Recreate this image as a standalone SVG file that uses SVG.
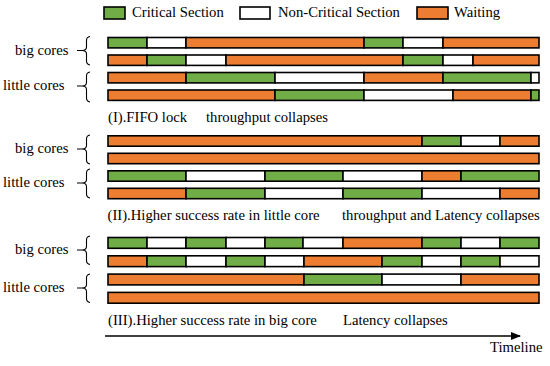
<svg xmlns="http://www.w3.org/2000/svg" width="550" height="366" viewBox="0 0 550 366" font-family="'Liberation Serif', 'Times New Roman', serif">
<defs>
<style>
text{font-family:'Liberation Serif','Times New Roman',serif;font-size:14.7px;fill:#000}
.g{fill:#70AD47;stroke:#000;stroke-width:1.6}
.o{fill:#ED7D31;stroke:#000;stroke-width:1.6}
.w{fill:#fff;stroke:#000;stroke-width:1.6}
.br{fill:none;stroke:#000;stroke-width:1.1}
.ax{stroke:#000;stroke-width:1.5;fill:none}
</style>
<marker id="ah" markerWidth="10" markerHeight="8" refX="9" refY="4" orient="auto" markerUnits="userSpaceOnUse">
<path d="M0,0 L10,4 L0,8 z" fill="#000"/>
</marker>
</defs>
<rect width="550" height="366" fill="#fff"/>

<g id="legend">
<rect class="g" x="104" y="7" width="21" height="12"/>
<text x="132" y="17">Critical Section</text>
<rect class="w" x="240" y="7" width="30" height="12"/>
<text x="278" y="17">Non-Critical Section</text>
<rect class="o" x="417" y="7" width="31" height="12"/>
<text x="454" y="17">Waiting</text>
</g>

<g id="labels">
<text x="15" y="54.5">big cores</text>
<text x="3" y="90">little cores</text>
<text x="15" y="153">big cores</text>
<text x="3" y="187">little cores</text>
<text x="15" y="254">big cores</text>
<text x="3" y="291.5">little cores</text>
</g>

<g id="braces">
<path class="br" d="M77,50.5 H82 M90,36.5 Q86.5,37 86.5,40.5 V47 Q86.5,50.5 82,50.5 Q86.5,50.5 86.5,54 V61 Q86.5,64.5 90,65"/>
<path class="br" d="M77,86 H82 M90,72 Q86.5,72.5 86.5,76 V82.5 Q86.5,86 82,86 Q86.5,86 86.5,89.5 V98 Q86.5,101.5 90,102"/>
<path class="br" d="M77,149 H82 M90,135 Q86.5,135.5 86.5,139 V145.5 Q86.5,149 82,149 Q86.5,149 86.5,152.5 V160 Q86.5,163.5 90,164"/>
<path class="br" d="M77,183 H82 M90,169 Q86.5,169.5 86.5,173 V179.5 Q86.5,183 82,183 Q86.5,183 86.5,186.5 V194 Q86.5,197.5 90,198"/>
<path class="br" d="M77,250 H82 M90,236 Q86.5,236.5 86.5,240 V246.5 Q86.5,250 82,250 Q86.5,250 86.5,253.5 V260.5 Q86.5,264 90,264.5"/>
<path class="br" d="M77,288 H82 M90,274 Q86.5,274.5 86.5,278 V284.5 Q86.5,288 82,288 Q86.5,288 86.5,291.5 V298.5 Q86.5,302 90,302.5"/>
</g>

<g id="s1-big-1">
<rect class="g" x="108" y="37.5" width="39" height="10.4"/>
<rect class="w" x="147" y="37.5" width="39" height="10.4"/>
<rect class="o" x="186" y="37.5" width="178" height="10.4"/>
<rect class="g" x="364" y="37.5" width="39" height="10.4"/>
<rect class="w" x="403" y="37.5" width="40" height="10.4"/>
<rect class="o" x="443" y="37.5" width="96" height="10.4"/>
</g>
<g id="s1-big-2">
<rect class="o" x="108" y="55" width="39" height="10.4"/>
<rect class="g" x="147" y="55" width="39" height="10.4"/>
<rect class="w" x="186" y="55" width="40" height="10.4"/>
<rect class="o" x="226" y="55" width="177" height="10.4"/>
<rect class="g" x="403" y="55" width="40" height="10.4"/>
<rect class="w" x="443" y="55" width="30" height="10.4"/>
<rect class="o" x="473" y="55" width="66" height="10.4"/>
</g>
<g id="s1-little-1">
<rect class="o" x="108" y="72.5" width="78" height="10.4"/>
<rect class="g" x="186" y="72.5" width="89" height="10.4"/>
<rect class="w" x="275" y="72.5" width="89" height="10.4"/>
<rect class="o" x="364" y="72.5" width="79" height="10.4"/>
<rect class="g" x="443" y="72.5" width="88" height="10.4"/>
<rect class="w" x="531" y="72.5" width="8" height="10.4"/>
</g>
<g id="s1-little-2">
<rect class="o" x="108" y="90" width="167" height="10.4"/>
<rect class="g" x="275" y="90" width="89" height="10.4"/>
<rect class="w" x="364" y="90" width="89" height="10.4"/>
<rect class="o" x="453" y="90" width="78" height="10.4"/>
<rect class="g" x="531" y="90" width="8" height="10.4"/>
</g>
<text id="cap1" x="108" y="121.5">(I).FIFO lock<tspan x="206">throughput collapses</tspan></text>

<g id="s2-big-1">
<rect class="o" x="108" y="135.8" width="314" height="10.4"/>
<rect class="g" x="422" y="135.8" width="39" height="10.4"/>
<rect class="w" x="461" y="135.8" width="39" height="10.4"/>
<rect class="o" x="500" y="135.8" width="39" height="10.4"/>
</g>
<g id="s2-big-2">
<rect class="o" x="108" y="153.3" width="431" height="10.4"/>
</g>
<g id="s2-little-1">
<rect class="g" x="108" y="170.8" width="78" height="10.4"/>
<rect class="w" x="186" y="170.8" width="79" height="10.4"/>
<rect class="g" x="265" y="170.8" width="78" height="10.4"/>
<rect class="w" x="343" y="170.8" width="79" height="10.4"/>
<rect class="o" x="422" y="170.8" width="39" height="10.4"/>
<rect class="g" x="461" y="170.8" width="78" height="10.4"/>
</g>
<g id="s2-little-2">
<rect class="o" x="108" y="188.3" width="78" height="10.4"/>
<rect class="g" x="186" y="188.3" width="79" height="10.4"/>
<rect class="w" x="265" y="188.3" width="78" height="10.4"/>
<rect class="g" x="343" y="188.3" width="79" height="10.4"/>
<rect class="w" x="422" y="188.3" width="78" height="10.4"/>
<rect class="o" x="500" y="188.3" width="39" height="10.4"/>
</g>
<text id="cap2" x="107.5" y="219.5">(II).Higher success rate in little core<tspan x="342">throughput and Latency collapses</tspan></text>

<g id="s3-big-1">
<rect class="g" x="108" y="237.5" width="39" height="10.8"/>
<rect class="w" x="147" y="237.5" width="39" height="10.8"/>
<rect class="g" x="186" y="237.5" width="40" height="10.8"/>
<rect class="w" x="226" y="237.5" width="39" height="10.8"/>
<rect class="g" x="265" y="237.5" width="38" height="10.8"/>
<rect class="w" x="303" y="237.5" width="40" height="10.8"/>
<rect class="o" x="343" y="237.5" width="79" height="10.8"/>
<rect class="g" x="422" y="237.5" width="39" height="10.8"/>
<rect class="w" x="461" y="237.5" width="39" height="10.8"/>
<rect class="g" x="500" y="237.5" width="39" height="10.8"/>
</g>
<g id="s3-big-2">
<rect class="o" x="108" y="255.8" width="39" height="10.8"/>
<rect class="g" x="147" y="255.8" width="39" height="10.8"/>
<rect class="w" x="186" y="255.8" width="40" height="10.8"/>
<rect class="g" x="226" y="255.8" width="39" height="10.8"/>
<rect class="w" x="265" y="255.8" width="39" height="10.8"/>
<rect class="o" x="304" y="255.8" width="78" height="10.8"/>
<rect class="g" x="382" y="255.8" width="40" height="10.8"/>
<rect class="w" x="422" y="255.8" width="39" height="10.8"/>
<rect class="g" x="461" y="255.8" width="39" height="10.8"/>
<rect class="w" x="500" y="255.8" width="39" height="10.8"/>
</g>
<g id="s3-little-1">
<rect class="o" x="108" y="274.1" width="196" height="10.8"/>
<rect class="g" x="304" y="274.1" width="78" height="10.8"/>
<rect class="w" x="382" y="274.1" width="79" height="10.8"/>
<rect class="o" x="461" y="274.1" width="78" height="10.8"/>
</g>
<g id="s3-little-2">
<rect class="o" x="108" y="292.4" width="431" height="10.8"/>
</g>
<text id="cap3" x="108" y="324.5">(III).Higher success rate in big core<tspan x="343">Latency collapses</tspan></text>

<g id="connectors">
<line class="ax" x1="105" y1="336" x2="520" y2="336" marker-end="url(#ah)"/>
</g>
<text id="timeline" x="490" y="352">Timeline</text>
</svg>
